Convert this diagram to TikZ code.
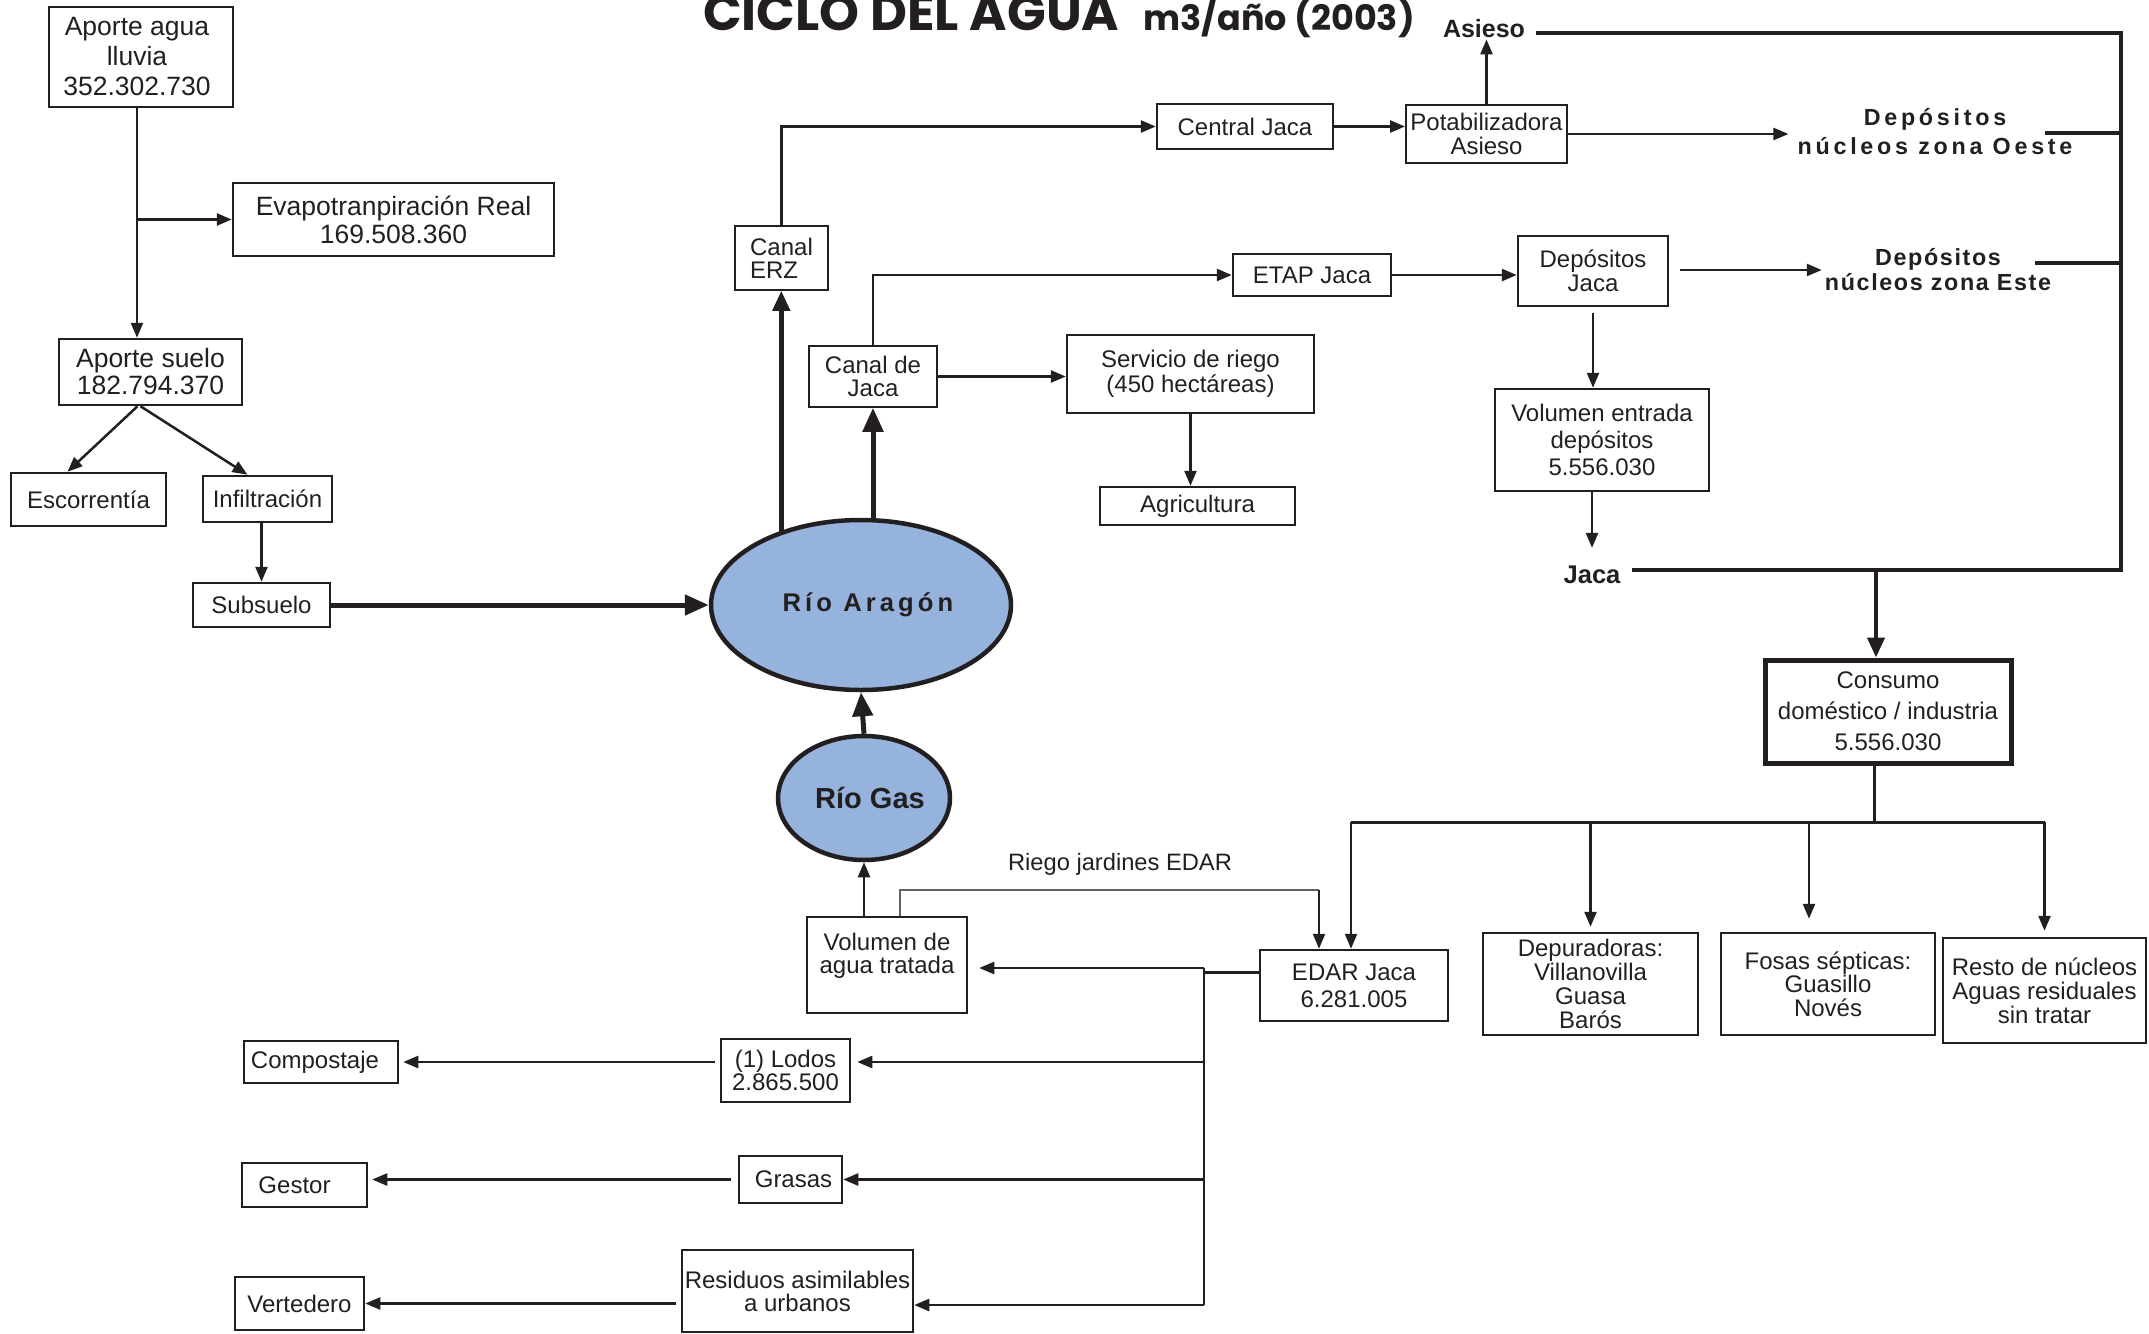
\documentclass[tikz,border=0pt]{standalone}
\usepackage{fontspec}
\setmainfont{Liberation Sans}
\newfontfamily\titlefont{Poppins}
\usetikzlibrary{arrows.meta,shapes.geometric}
\definecolor{ink}{HTML}{231F20}
\definecolor{river}{HTML}{95B3DD}
\newcommand\fsz[2]{\fontsize{#1}{#2}\selectfont}
\begin{document}
\begin{tikzpicture}[x=1pt,y=-1pt,
  box/.style={draw=ink, line width=2.5pt, rectangle, inner sep=0pt, align=center, text=ink, font=\fsz{24}{24}},
  thinbox/.style={box, line width=1.5pt},
  lbl/.style={inner sep=0pt, text=ink, align=center},
  conn/.style={draw=ink, line width=2.5pt},
  thinline/.style={draw=ink!70, line width=1.3pt},
  arr/.style={conn, -{Triangle[length=15pt,width=12pt]}},
  heavy/.style={draw=ink, line width=4pt},
  heavyarr/.style={draw=ink, line width=5pt, -{Triangle[length=24pt,width=20pt]}},
  midarr/.style={draw=ink, line width=4.5pt, -{Triangle[length=20pt,width=17pt]}},
  riverstyle/.style={ellipse, draw=ink, line width=4.5pt, fill=river, inner sep=0pt, text=ink}
]
\useasboundingbox (0,0) rectangle (2149,1333);
\clip (0,0) rectangle (2149,1333);

% title
\node[lbl, anchor=base west] (title) at (703,30) {\titlefont\bfseries\fsz{50.8}{50}CICLO DEL AGUA\hspace{24pt}\fsz{35}{35}m3/año (2003)};

% boxes
\node[box, font=\fsz{26.5}{30}, minimum width=184, minimum height=100] (lluvia) at (141,57) {\hspace*{-8pt}Aporte agua\\\hspace*{-8pt}lluvia\\\hspace*{-8pt}352.302.730};
\node[box, font=\fsz{26.5}{28}, minimum width=321, minimum height=73] (evap) at (393.5,219.5) {Evapotranpiración Real\\169.508.360};
\node[box, font=\fsz{26.5}{27}, minimum width=183, minimum height=66] (suelo) at (150.5,372) {Aporte suelo\\182.794.370};
\node[box, minimum width=155, minimum height=53] (escorrentia) at (88.5,499.5) {Escorrentía};
\node[box, minimum width=129, minimum height=46] (infiltracion) at (267.5,499) {Infiltración};
\node[box, minimum width=137, minimum height=44] (subsuelo) at (261.5,605) {Subsuelo};

\node[riverstyle, minimum width=300, minimum height=170, font=\bfseries\fsz{25.6}{26}\addfontfeature{LetterSpace=16}] (aragon) at (861,605) {\hspace*{14pt}Río Aragón};
\node[riverstyle, minimum width=160, minimum height=124, font=\bfseries\fsz{29}{29}] (riogas) at (864,798) {\hspace*{12pt}Río Gas};

\node[thinbox, align=left, minimum width=93, minimum height=64, font=\fsz{24}{23}] (erz) at (781.5,258) {Canal\\ERZ};
\node[thinbox, minimum width=128, minimum height=61, font=\fsz{24}{23}] (canaljaca) at (873,376.5) {Canal de\\Jaca};
\node[box, minimum width=176, minimum height=45] (central) at (1245,126.5) {Central Jaca};
\node[box, line width=2pt, minimum width=161, minimum height=58] (potab) at (1486.5,134) {Potabilizadora\\Asieso};
\node[box, minimum width=158, minimum height=42] (etap) at (1312,275) {ETAP Jaca};
\node[box, font=\fsz{24}{25}, minimum width=247, minimum height=78] (servicio) at (1190.5,374) {Servicio de riego\\(450 hectáreas)};
\node[box, minimum width=195, minimum height=38] (agricultura) at (1197.5,506) {Agricultura};
\node[box, minimum width=150, minimum height=70] (depjaca) at (1593,271) {Depósitos\\Jaca};
\node[box, font=\fsz{24}{27}, minimum width=214, minimum height=102] (volentrada) at (1602,440) {Volumen entrada\\depósitos\\5.556.030};
\node[box, line width=5pt, font=\fsz{24}{31}, minimum width=246, minimum height=103] (consumo) at (1888,711.5) {Consumo\\doméstico / industria\\5.556.030};
\node[box, font=\fsz{24}{27}, minimum width=188, minimum height=71] (edar) at (1354,985.5) {EDAR Jaca\\6.281.005};
\node[box, minimum width=215, minimum height=102] (depuradoras) at (1590.5,984) {Depuradoras:\\Villanovilla\\Guasa\\Barós};
\node[box, font=\fsz{24}{23.5}, minimum width=214, minimum height=102] (fosas) at (1828,984) {Fosas sépticas:\\Guasillo\\Novés};
\node[box, minimum width=203, minimum height=105] (resto) at (2044.5,990.5) {Resto de núcleos\\Aguas residuales\\sin tratar};
\node[box, font=\fsz{24}{23}, minimum width=160, minimum height=96] (volagua) at (887,965) {Volumen de\\agua tratada\\\mbox{}};
\node[box, font=\fsz{24}{23}, minimum width=129, minimum height=63] (lodos) at (785.5,1070.5) {(1) Lodos\\2.865.500};
\node[box, minimum width=154, minimum height=42] (compostaje) at (321,1062) {\hspace*{-12pt}Compostaje};
\node[box, minimum width=103, minimum height=47] (grasas) at (790.5,1179.5) {\hspace*{6pt}Grasas};
\node[box, minimum width=125, minimum height=44] (gestor) at (304.5,1185) {\hspace*{-20pt}Gestor};
\node[box, font=\fsz{24}{23}, minimum width=231, minimum height=82] (residuos) at (797.5,1291) {Residuos asimilables\\a urbanos};
\node[box, minimum width=129, minimum height=53] (vertedero) at (299.5,1303.5) {Vertedero};

% free labels
\node[lbl, font=\bfseries\fsz{25}{25}, anchor=base] (asieso) at (1484,37) {Asieso};
\node[lbl, font=\bfseries\fsz{23.3}{29}\addfontfeature{LetterSpace=16}] (oeste) at (1935,132) {Depósitos\\núcleos zona Oeste};
\node[lbl, font=\bfseries\fsz{23.3}{25}\addfontfeature{LetterSpace=7}] (este) at (1938,270) {Depósitos\\núcleos zona Este};
\node[lbl, font=\bfseries\fsz{25.6}{26}] (jacalbl) at (1592,575) {Jaca};
\node[lbl, font=\fsz{23.7}{24}] (riegolbl) at (1120,864) {Riego jardines EDAR};

% coordinates
\coordinate (asiesoL) at (1536,33);
\coordinate (rtop) at (2121,33);
\coordinate (rbot) at (2121,570);
\coordinate (jline) at (1632,570);
\coordinate (oestej) at (2045,133);
\coordinate (estej) at (2035,263);
\coordinate (busL) at (1351,822);
\coordinate (busR) at (2045,822);
\coordinate (riegoA) at (900,890);
\coordinate (riegoB) at (1319,890);
\coordinate (busT) at (1204,968);
\coordinate (busB) at (1204,1305);
\coordinate (consN) at ([xshift=-12pt]consumo.north);
\coordinate (consS) at ([xshift=-14pt]consumo.south);
\coordinate (fosasTop) at ([xshift=-19pt]fosas.north);
\coordinate (edarL) at ([yshift=13pt]edar.west);
\coordinate (suL) at ([xshift=-13pt]suelo.south);
\coordinate (suR) at ([xshift=-10pt]suelo.south);
\coordinate (escT) at ([xshift=-21pt]escorrentia.north);
\coordinate (infT) at ([xshift=-20pt]infiltracion.north);
\coordinate (lluvS) at ([xshift=-4pt]lluvia.south);

% connectors, upper left
\draw[arr] (lluvS) -- (lluvS |- suelo.north);
\draw[arr] (lluvS |- evap.west) -- (evap.west);
\draw[arr] (suL) -- (escT);
\draw[arr] (suR) -- (infT);
\draw[arr] (subsuelo.north |- infiltracion.south) -- (subsuelo.north);
\draw[heavyarr] (subsuelo.east) -- (aragon.west);

% river outputs
\draw[midarr] (aragon.137) -- (aragon.137 |- erz.south);
\draw[heavyarr] (aragon.north -| canaljaca.south) -- (canaljaca.south);
\draw[heavyarr] (riogas.north) -- (aragon.south);
\draw[arr] (riogas.south |- volagua.north) -- (riogas.south);

% upper chain
\draw[arr] (erz.north) |- (central.west);
\draw[arr] (central.east) -- (central.east -| potab.west);
\draw[arr, shorten >=2pt] (potab.north) -- (potab.north |- asieso.south);
\draw[arr, shorten >=9pt] (potab.east) -- (potab.east -| oeste.west);
\draw[heavy] (oestej) -- (oestej -| rtop);
\draw[heavy] (asiesoL) -- (rtop) -- (rbot) -- (jline);
\draw[arr] (canaljaca.north) |- (etap.west);
\draw[arr] (canaljaca.east) -- (canaljaca.east -| servicio.west);
\draw[arr] (servicio.south) -- (servicio.south |- agricultura.north);
\draw[arr] (etap.east) -- (etap.east -| depjaca.west);
\draw[arr, shorten <=11pt, shorten >=3pt] (depjaca.east |- este.west) -- (este.west);
\draw[heavy] (estej) -- (estej -| rtop);
\draw[arr, shorten <=6pt] (depjaca.south) -- (depjaca.south |- volentrada.north);
\draw[arr, shorten >=18pt] (jacalbl.north |- volentrada.south) -- (jacalbl.north);
\draw[midarr] (consN |- rbot) -- (consN);

% distribution
\draw[conn, line width=3pt] (consS) -- (consS |- busL);
\draw[conn, line width=3pt] (busL) -- (busR);
\draw[arr] (busL) -- (busL |- edar.north);
\draw[arr, shorten >=5pt] (depuradoras.north |- busL) -- (depuradoras.north);
\draw[arr, shorten >=13pt] (fosasTop |- busL) -- (fosasTop);
\draw[arr, shorten >=6pt] (resto.north |- busL) -- (resto.north);

% EDAR outputs
\draw[thinline] (riegoA |- volagua.north) -- (riegoA) -- (riegoB);
\draw[arr] (riegoB) -- (riegoB |- edar.north);
\draw[conn] (edarL) -- (edarL -| busT);
\draw[conn] (busT) -- (busB);
\draw[arr, shorten >=11pt] (busT) -- (busT -| volagua.east);
\draw[arr, shorten >=6pt] (busT |- compostaje.east) -- (compostaje.east -| lodos.east);
\draw[arr] (busT |- grasas.east) -- (grasas.east);
\draw[arr] (busB) -- (busB -| residuos.east);
\draw[arr, shorten <=5pt, shorten >=4pt] (lodos.west |- compostaje.east) -- (compostaje.east);
\draw[arr, shorten <=7pt, shorten >=4pt] (grasas.west) -- (grasas.west -| gestor.east);
\draw[arr, shorten <=5pt] (residuos.west |- vertedero.east) -- (vertedero.east);
\end{tikzpicture}
\end{document}
